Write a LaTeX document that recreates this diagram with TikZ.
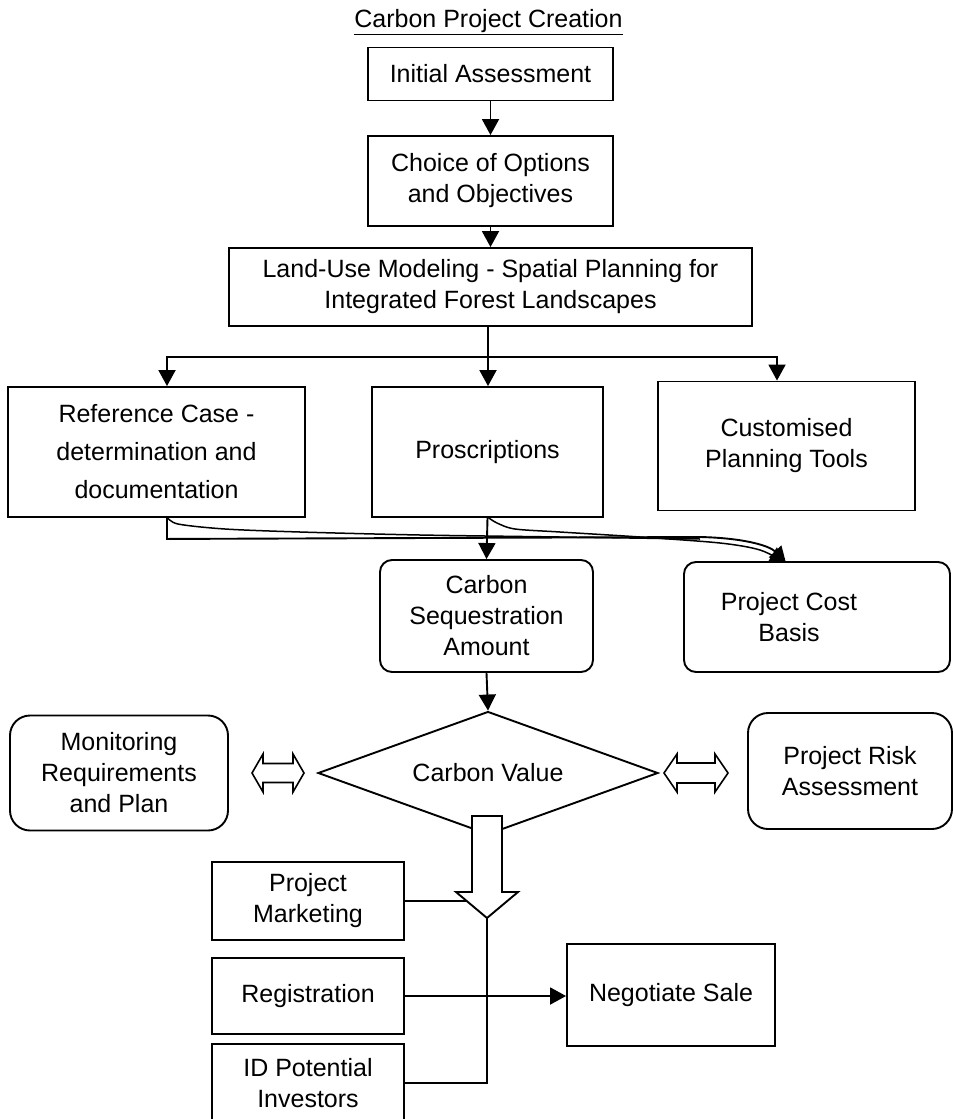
\documentclass[tikz,border=0pt]{standalone}
\usepackage{fontspec}
\setmainfont{Liberation Sans}
\usetikzlibrary{shapes.geometric,arrows.meta,calc}
\begin{document}
\begin{tikzpicture}[x=1pt,y=-1pt,line width=1.9pt,
  every node/.style={font=\fontsize{25}{31}\selectfont,align=center},
  box/.style={draw,rectangle,inner sep=0pt},
  rbox/.style={draw,rectangle,rounded corners=12pt,inner sep=0pt},
  rrbox/.style={draw,rectangle,rounded corners=20pt,inner sep=0pt},
  arr/.style={-{Triangle[length=16pt,width=17pt]}},
  dblarrow/.style={line width=1.6pt,fill=white}
]
\useasboundingbox[fill=white] (0,0) rectangle (953,1119);

% title
\node (title) at (488.5,22) {\underline{Carbon Project Creation}};

% top chain
\node[box,minimum width=245pt,minimum height=53pt] (ia) at (490.5,74) {Initial Assessment};
\node[box,minimum width=245pt,minimum height=90pt] (ch) at (490.5,181) {Choice of Options\\and Objectives};
\node[box,minimum width=523pt,minimum height=78pt] (lu) at (490.5,287) {Land-Use Modeling - Spatial Planning for\\Integrated Forest Landscapes};

% three boxes
\node[box,minimum width=297pt,minimum height=130pt,font=\fontsize{25}{38}\selectfont] (ref) at (156.5,452) {Reference Case -\\determination and\\documentation};
\node[box,minimum width=231pt,minimum height=130pt] (pro) at (487.5,452) {Proscriptions};
\node[box,minimum width=257pt,minimum height=129pt] (cpt) at (786.5,446) {Customised\\Planning Tools};

% results
\node[rbox,minimum width=213pt,minimum height=112pt] (cs) at (486.5,616) {Carbon\\Sequestration\\Amount};
\node[rbox,minimum width=266pt,minimum height=110pt] (pcb) at (817,617) {Project Cost\hspace*{56pt}\\Basis\hspace*{56pt}};

% carbon value row
\node[draw,diamond,shape aspect=2.76,minimum width=340pt,minimum height=123pt,inner sep=0pt] (cv) at (488,773) {Carbon Value};
\node[rrbox,minimum width=218pt,minimum height=115pt] (mon) at (119,773) {Monitoring\\Requirements\\and Plan};
\node[rrbox,minimum width=204pt,minimum height=116pt] (pra) at (850,771) {Project Risk\\Assessment};

% bottom boxes
\node[box,minimum width=192pt,minimum height=78pt] (pm) at (308,901) {Project\\Marketing};
\node[box,minimum width=192pt,minimum height=76pt] (reg) at (308,996) {Registration};
\node[box,minimum width=192pt,minimum height=78pt] (idp) at (308,1083) {ID Potential\\Investors};
\node[box,minimum width=208pt,minimum height=102pt] (ns) at (671,995) {Negotiate Sale};

% connectors top
\draw[arr] (ia) -- (ch);
\draw[arr] (ch) -- (lu);
\coordinate (sp) at (488,357);
\draw (lu.south -| sp) -- (sp);
\draw[arr] (sp) -| ([xshift=10.5pt]ref.north);
\draw[arr] (sp) -| ([xshift=-9.5pt]cpt.north);
\draw[arr] (sp) -- (sp |- pro.north);

% connectors to results
\coordinate (rs) at ([xshift=10.5pt]ref.south);
\coordinate (pin) at (786,563);
\draw[arr] (rs) -- ++(0,21) -- (700,537) .. controls (745,538) and (770,546) .. (pin);
\draw[line width=1.5pt] plot[smooth,tension=0.5] coordinates {(167,517) (178,524) (225,529) (300,532) (420,535) (560,537) (700,539)};
\draw[arr,line width=1.5pt] plot[smooth,tension=0.5] coordinates {(487.5,517) (497,523) (515,529) (560,532) (640,537) (720,543) (760,550) (786,563)};
\draw[arr] (pro.south) -- (cs.north);
\draw[arr] (cs.south) -- (cv.north);

% double arrows
\draw[dblarrow] (252,773) -- (263,754) -- (263,763.5) -- (293,763.5) -- (293,754) -- (304,773)
  -- (293,792) -- (293,782.5) -- (263,782.5) -- (263,792) -- cycle;
\draw[dblarrow] (664,773) -- (677,754) -- (677,763) -- (715,763) -- (715,754) -- (728,773)
  -- (715,792) -- (715,783) -- (677,783) -- (677,792) -- cycle;

% bottom connectors
\coordinate (bt) at (487,918);
\draw (pm.east) -- (pm.east -| bt);
\draw (bt) |- (idp.east);
\draw[arr] (reg.east) -- (reg.east -| ns.west);

% block arrow
\draw[line width=1.9pt,fill=white] (472,816) -- (502,816) -- (502,892) -- (518,892) -- (bt)
  -- (456,892) -- (472,892) -- cycle;
\end{tikzpicture}
\end{document}
